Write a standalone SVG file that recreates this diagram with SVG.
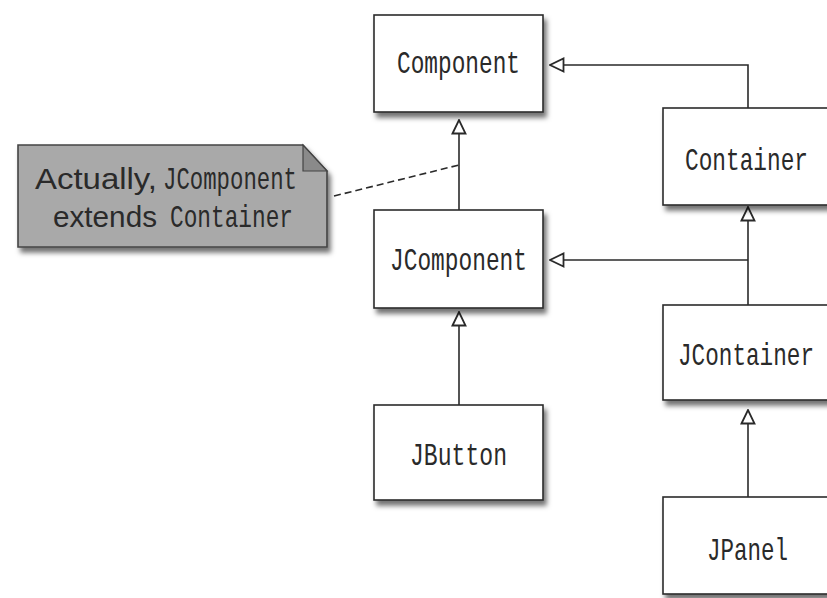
<svg xmlns="http://www.w3.org/2000/svg" width="827" height="598" viewBox="0 0 827 598">
<style>
.box{fill:#fff;stroke:#2a2a2a;stroke-width:1.6;filter:url(#sh)}
.lbl{font-family:"Liberation Mono","DejaVu Sans Mono",monospace;font-size:22.7px;fill:#2a2a2a}
.sans{font-family:"Liberation Sans",Arial,sans-serif;font-size:29px;fill:#2a2a2a}
.ln{fill:none;stroke:#2a2a2a;stroke-width:1.6}
.dash{fill:none;stroke:#2a2a2a;stroke-width:1.6;stroke-dasharray:7 4}
</style>
<defs>
<filter id="sh" x="-10%" y="-10%" width="130%" height="140%">
<feDropShadow dx="3" dy="5" stdDeviation="2.5" flood-color="#000" flood-opacity="0.55"/>
</filter>
<marker id="tri" viewBox="0 0 16 16" refX="15" refY="8" markerWidth="16" markerHeight="16" markerUnits="userSpaceOnUse" orient="auto">
<path d="M1.5,1.5 L15,8 L1.5,14.5 Z" fill="#fff" stroke="#2a2a2a" stroke-width="1.8"/>
</marker>
</defs>
<rect width="827" height="598" fill="#fff"/>
<g id="connectors">
<path class="ln" d="M748,108 V65 H550" marker-end="url(#tri)"/>
<path class="ln" d="M459,210 V120" marker-end="url(#tri)"/>
<path class="ln" d="M748,305 V207" marker-end="url(#tri)"/>
<path class="ln" d="M748,260 H550" marker-end="url(#tri)"/>
<path class="ln" d="M459,405 V312" marker-end="url(#tri)"/>
<path class="ln" d="M748,497 V410" marker-end="url(#tri)"/>
<path class="dash" d="M334,196 L459,165"/>
</g>
<g id="note">
<path d="M18,145 H303 L327,171 V247 H18 Z" fill="#a9a9a9" stroke="#444" stroke-width="1.6" filter="url(#sh)"/>
<path d="M303,145 V171 H327 Z" fill="#8a8a8a" stroke="#444" stroke-width="1.2"/>
<text class="sans" x="35" y="189" textLength="122" lengthAdjust="spacingAndGlyphs">Actually,</text>
<text class="lbl" transform="translate(163,189) scale(1,1.37)" textLength="134" lengthAdjust="spacingAndGlyphs">JComponent</text>
<text class="sans" x="53" y="227" textLength="104" lengthAdjust="spacingAndGlyphs">extends</text>
<text class="lbl" transform="translate(170,227) scale(1,1.37)" textLength="123" lengthAdjust="spacingAndGlyphs">Container</text>
</g>
<g id="Component">
<rect class="box" x="374" y="15" width="169" height="97"/>
<text class="lbl" transform="translate(397,73) scale(1,1.37)" textLength="123" lengthAdjust="spacingAndGlyphs">Component</text>
</g>
<g id="Container">
<rect class="box" x="663" y="108" width="180" height="97"/>
<text class="lbl" transform="translate(685,170) scale(1,1.37)" textLength="123" lengthAdjust="spacingAndGlyphs">Container</text>
</g>
<g id="JComponent">
<rect class="box" x="374" y="210" width="169" height="98"/>
<text class="lbl" transform="translate(390,270) scale(1,1.37)" textLength="137" lengthAdjust="spacingAndGlyphs">JComponent</text>
</g>
<g id="JContainer">
<rect class="box" x="663" y="305" width="180" height="95"/>
<text class="lbl" transform="translate(678,365) scale(1,1.37)" textLength="136" lengthAdjust="spacingAndGlyphs">JContainer</text>
</g>
<g id="JButton">
<rect class="box" x="374" y="405" width="169" height="95"/>
<text class="lbl" transform="translate(410,465) scale(1,1.37)" textLength="97" lengthAdjust="spacingAndGlyphs">JButton</text>
</g>
<g id="JPanel">
<rect class="box" x="663" y="497" width="180" height="97"/>
<text class="lbl" transform="translate(707,560) scale(1,1.37)" textLength="81" lengthAdjust="spacingAndGlyphs">JPanel</text>
</g>
</svg>
